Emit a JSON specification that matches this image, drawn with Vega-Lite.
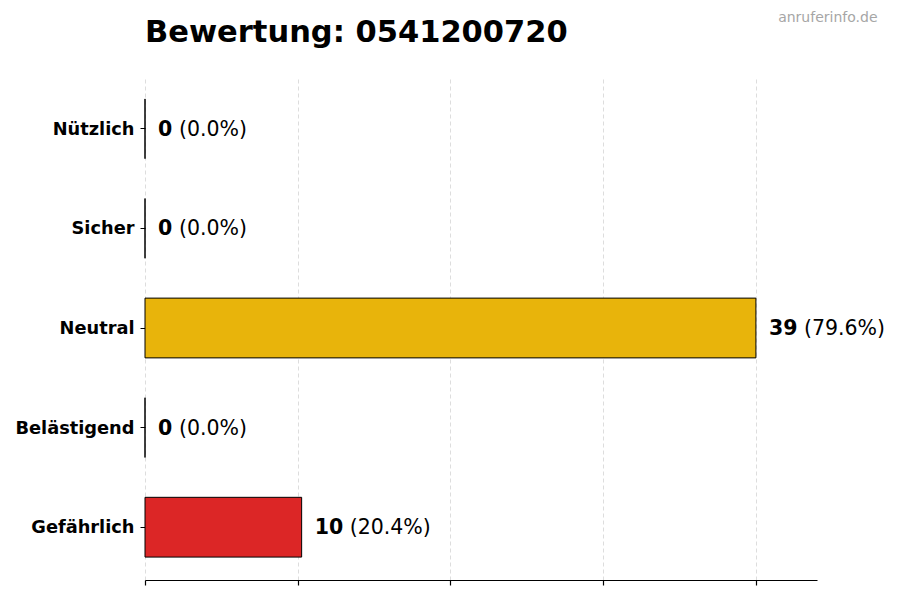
{
  "$schema": "https://vega.github.io/schema/vega-lite/v6.json",
  "autosize": {"type": "none"},
  "width": 672,
  "height": 504,
  "padding": {"left": 145, "top": 76, "right": 83, "bottom": 20},
  "background": "white",
  "config": {
    "font": "DejaVu Sans",
    "view": {"stroke": null}
  },
  "title": {
    "text": "Bewertung: 0541200720",
    "anchor": "start",
    "frame": "group",
    "fontSize": 30.5,
    "fontWeight": "bold",
    "color": "black",
    "offset": 0,
    "dy": 38
  },
  "data": {
    "values": [
      {"kategorie": "Nützlich", "anzahl": 0, "prozent": 0.0},
      {"kategorie": "Sicher", "anzahl": 0, "prozent": 0.0},
      {"kategorie": "Neutral", "anzahl": 39, "prozent": 79.6},
      {"kategorie": "Belästigend", "anzahl": 0, "prozent": 0.0},
      {"kategorie": "Gefährlich", "anzahl": 10, "prozent": 20.4}
    ]
  },
  "transform": [
    {"calculate": "'(' + format(datum.prozent, '.1f') + '%)'", "as": "prozent_text"}
  ],
  "encoding": {
    "y": {
      "field": "kategorie",
      "type": "nominal",
      "sort": ["Nützlich", "Sicher", "Neutral", "Belästigend", "Gefährlich"],
      "scale": {"paddingInner": 0.4, "paddingOuter": 0.23},
      "title": null,
      "axis": {
        "domain": false,
        "ticks": true,
        "tickSize": 5,
        "tickColor": "black",
        "labelFontSize": 17.8,
        "labelFontWeight": "bold",
        "labelColor": "black",
        "labelPadding": 6,
        "labelOffset": 1
      }
    }
  },
  "layer": [
    {
      "mark": {"type": "bar", "stroke": "black", "strokeWidth": 1},
      "encoding": {
        "x": {
          "field": "anzahl",
          "type": "quantitative",
          "scale": {"domain": [0, 42.9], "nice": false, "zero": true},
          "title": null,
          "axis": {
            "orient": "bottom",
            "values": [0, 9.75, 19.5, 29.25, 39],
            "labels": false,
            "domain": true,
            "domainColor": "black",
            "domainWidth": 1.2,
            "ticks": true,
            "tickSize": 5,
            "tickColor": "black",
            "tickWidth": 1.2,
            "grid": true,
            "gridColor": "#d4d4d4",
            "gridDash": [4, 3],
            "gridWidth": 0.8
          }
        },
        "color": {
          "field": "kategorie",
          "type": "nominal",
          "scale": {
            "domain": ["Nützlich", "Sicher", "Neutral", "Belästigend", "Gefährlich"],
            "range": ["#16a34a", "#22c55e", "#e8b40b", "#f97316", "#dc2626"]
          },
          "legend": null
        }
      }
    },
    {
      "mark": {"type": "text", "align": "left", "baseline": "middle", "dx": 13, "dy": 1, "fontSize": 20.5, "fontWeight": "bold", "color": "black"},
      "encoding": {
        "x": {"field": "anzahl", "type": "quantitative", "axis": null},
        "text": {"field": "anzahl", "type": "quantitative"}
      }
    },
    {
      "transform": [{"filter": "datum.anzahl < 10"}],
      "mark": {"type": "text", "align": "left", "baseline": "middle", "dx": 34, "dy": 1, "fontSize": 20.5, "fontWeight": "normal", "color": "black"},
      "encoding": {
        "x": {"field": "anzahl", "type": "quantitative", "axis": null},
        "text": {"field": "prozent_text", "type": "nominal"}
      }
    },
    {
      "transform": [{"filter": "datum.anzahl >= 10"}],
      "mark": {"type": "text", "align": "left", "baseline": "middle", "dx": 48, "dy": 1, "fontSize": 20.5, "fontWeight": "normal", "color": "black"},
      "encoding": {
        "x": {
          "field": "anzahl",
          "type": "quantitative",
          "axis": {
            "orient": "top",
            "domain": false,
            "ticks": false,
            "labels": false,
            "grid": false,
            "title": "anruferinfo.de",
            "titleColor": "#a6a6a6",
            "titleFontSize": 14,
            "titleFontWeight": "normal",
            "titleAlign": "right",
            "titleBaseline": "middle",
            "titleAnchor": "end",
            "titleX": 732,
            "titleY": -59
          }
        },
        "text": {"field": "prozent_text", "type": "nominal"}
      }
    }
  ],
  "resolve": {"axis": {"x": "independent"}}
}
